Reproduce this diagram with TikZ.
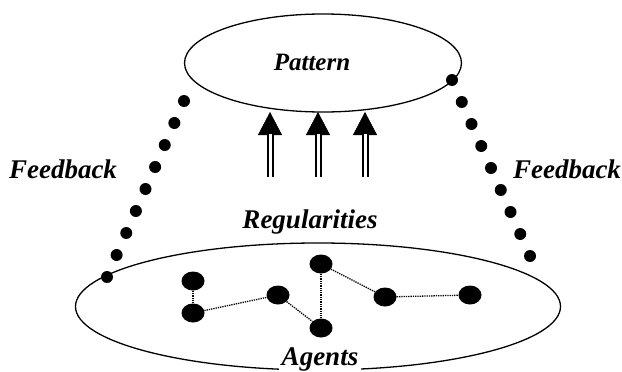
\documentclass[tikz,border=0pt]{standalone}
\usepackage{fontspec}
\setmainfont{Liberation Serif}
\usetikzlibrary{shapes.geometric,arrows.meta,calc,positioning}

\begin{document}
\begin{tikzpicture}[x=1pt,y=-1pt,
  lbl/.style={font=\fontsize{27}{30}\selectfont\bfseries\itshape, inner sep=1pt},
  ring/.style={draw, ellipse, line width=1.3pt, inner sep=0pt},
  agent/.style={fill, ellipse, minimum width=23pt, minimum height=19pt, inner sep=0pt},
  link/.style={densely dotted, line width=1.3pt},
  fbdot/.style={fill, radius=6pt},
  shaft/.style={double, double distance=3pt, line width=2pt}]
\useasboundingbox (0,0) rectangle (622,372);
% ellipses
\node[ring, minimum width=277pt, minimum height=98pt] (pattern) at (323,63) {};
\node[lbl, font=\fontsize{25}{28}\selectfont\bfseries\itshape] (ptxt) at (312,62) {Pattern};
\node[ring, minimum width=485pt, minimum height=127pt] (agents) at (318,306.5) {};
\node[lbl, fill=white, anchor=base, inner sep=3pt] (atxt) at (320,365) {Agents};
\node[lbl] (reg) at (310,222) {Regularities};
\node[lbl] (fbl) at (63,169) {Feedback};
\node[lbl] (fbr) at (567,169) {Feedback};
% agents
\node[agent] (a1) at (193,281) {};
\node[agent] (a2) at (193,313) {};
\node[agent] (a3) at (278,295) {};
\node[agent] (a4) at (321,264) {};
\node[agent] (a5) at (321,328) {};
\node[agent] (a6) at (385,297) {};
\node[agent] (a7) at (470,295) {};
\draw[link] (a1) -- (a2);
\draw[link] (a2) -- (a3);
\draw[link] (a3) -- (a5);
\draw[link] (a4) -- (a5);
\draw[link] (a4) -- (a6);
\draw[link] (a6) -- (a7);
% arrows
\foreach \i/\xx in {1/270,2/318,3/365} {
  \coordinate (b\i) at (\xx,177);
  \coordinate (m\i) at (\xx,134);
  \coordinate (t\i) at (\xx,112);
  \draw[-{Triangle[width=24pt,length=23pt]}, line width=0.5pt] (b\i) -- (t\i);
  \draw[shaft] (b\i) -- (m\i);
}
% feedback dots
\coordinate (fl0) at (184,101);
\coordinate (fl8) at (107,277);
\coordinate (fr0) at (452,80);
\coordinate (fr8) at (530,256);
\foreach \k in {0,...,8} {
  \fill[fbdot] ($(fl0)!\k/8!(fl8)$) circle;
  \fill[fbdot] ($(fr0)!\k/8!(fr8)$) circle;
}
\end{tikzpicture}
\end{document}
